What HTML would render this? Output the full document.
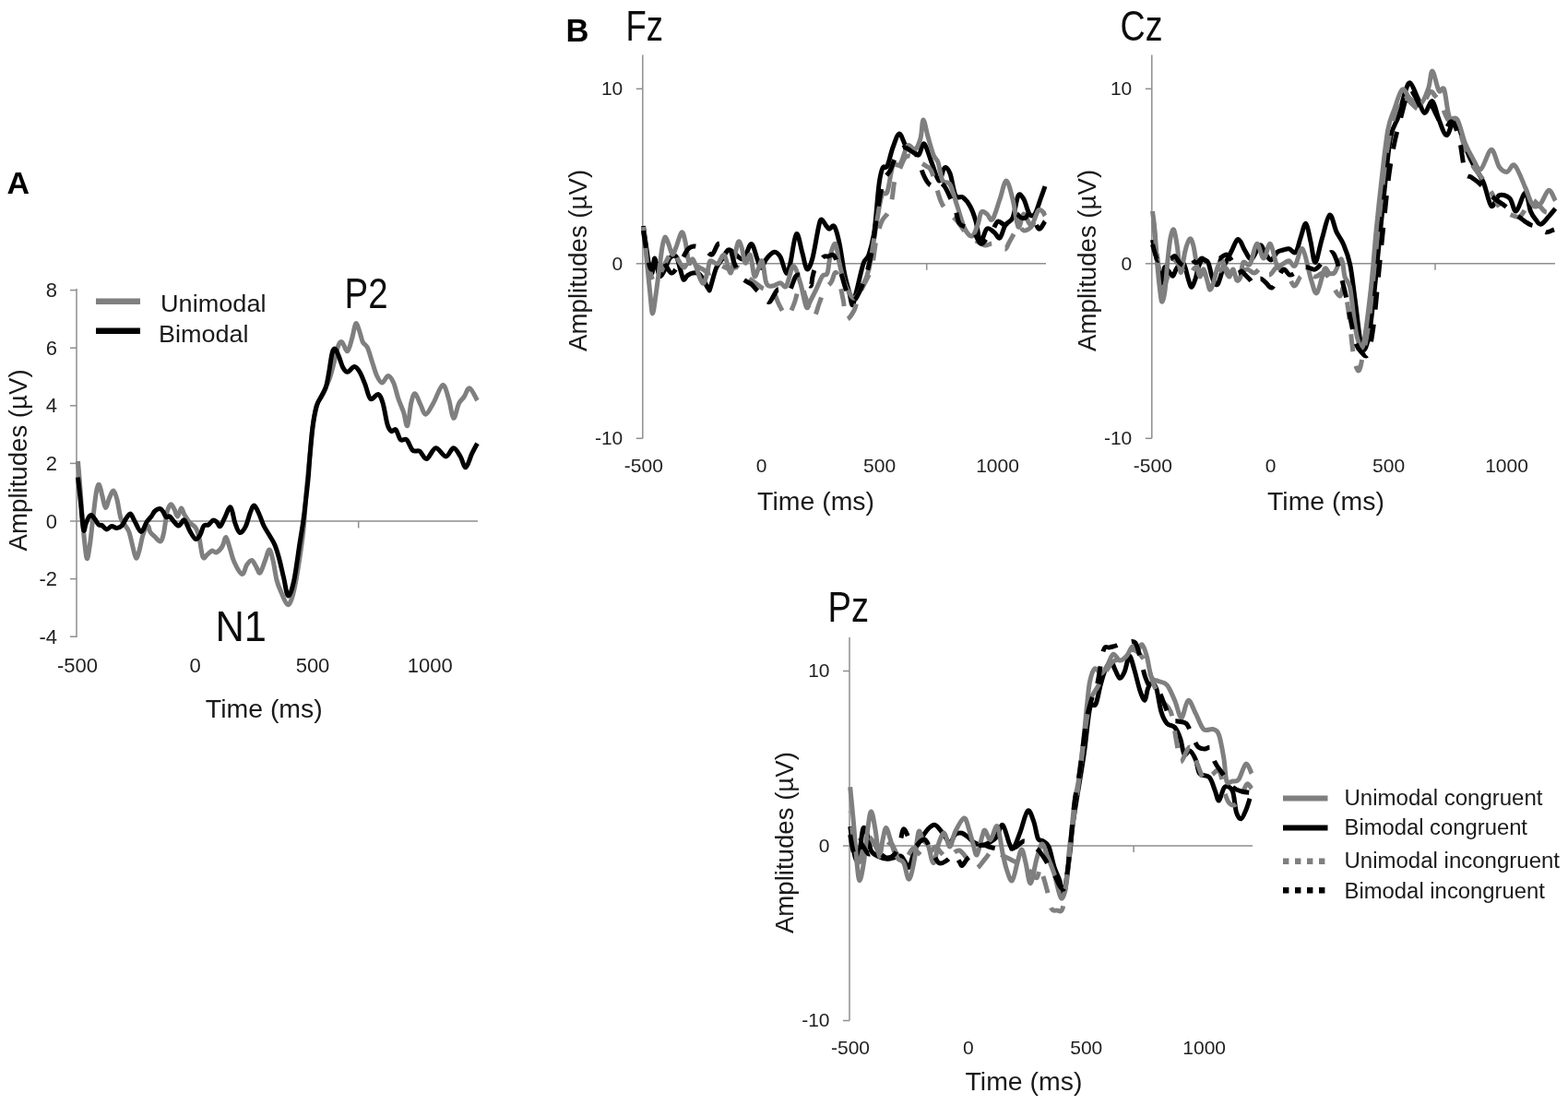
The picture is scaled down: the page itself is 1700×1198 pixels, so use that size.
<!DOCTYPE html>
<html><head><meta charset="utf-8"><title>ERP figure</title>
<style>html,body{margin:0;padding:0;background:#fff;}svg{display:block;}</style>
</head><body>
<svg width="1700" height="1198" viewBox="0 0 1700 1198">
<rect width="1700" height="1198" fill="#fff"/>
<g font-family="'Liberation Sans', Arial, sans-serif">
<text x="7.6" y="209.9" font-size="34.0" text-anchor="start" fill="#000" font-weight="bold">A</text>
<text x="613.5" y="44.6" font-size="34.5" text-anchor="start" fill="#000" font-weight="bold">B</text>
<line x1="83" y1="313" x2="83" y2="691" stroke="#8e8e8e" stroke-width="1.5"/>
<line x1="76" y1="314.6" x2="83" y2="314.6" stroke="#8e8e8e" stroke-width="1.5"/>
<text x="62.0" y="322.2" font-size="22.0" text-anchor="end" fill="#1f1f1f" >8</text>
<line x1="76" y1="377.2" x2="83" y2="377.2" stroke="#8e8e8e" stroke-width="1.5"/>
<text x="62.0" y="384.8" font-size="22.0" text-anchor="end" fill="#1f1f1f" >6</text>
<line x1="76" y1="439.8" x2="83" y2="439.8" stroke="#8e8e8e" stroke-width="1.5"/>
<text x="62.0" y="447.4" font-size="22.0" text-anchor="end" fill="#1f1f1f" >4</text>
<line x1="76" y1="502.4" x2="83" y2="502.4" stroke="#8e8e8e" stroke-width="1.5"/>
<text x="62.0" y="510.0" font-size="22.0" text-anchor="end" fill="#1f1f1f" >2</text>
<line x1="76" y1="565.0" x2="83" y2="565.0" stroke="#8e8e8e" stroke-width="1.5"/>
<text x="62.0" y="572.6" font-size="22.0" text-anchor="end" fill="#1f1f1f" >0</text>
<line x1="76" y1="627.6" x2="83" y2="627.6" stroke="#8e8e8e" stroke-width="1.5"/>
<text x="62.0" y="635.2" font-size="22.0" text-anchor="end" fill="#1f1f1f" >-2</text>
<line x1="76" y1="690.2" x2="83" y2="690.2" stroke="#8e8e8e" stroke-width="1.5"/>
<text x="62.0" y="697.8" font-size="22.0" text-anchor="end" fill="#1f1f1f" >-4</text>
<line x1="83" y1="565" x2="518" y2="565" stroke="#8e8e8e" stroke-width="1.5"/>
<line x1="388.7" y1="565" x2="388.7" y2="572.5" stroke="#8e8e8e" stroke-width="1.5"/>
<text x="84.0" y="728.6" font-size="22.0" text-anchor="middle" fill="#1f1f1f" >-500</text>
<text x="211.5" y="728.6" font-size="22.0" text-anchor="middle" fill="#1f1f1f" >0</text>
<text x="339.0" y="728.6" font-size="22.0" text-anchor="middle" fill="#1f1f1f" >500</text>
<text x="466.3" y="728.6" font-size="22.0" text-anchor="middle" fill="#1f1f1f" >1000</text>
<text x="286.3" y="778.4" font-size="27.0" text-anchor="middle" fill="#1a1a1a" textLength="127.0" lengthAdjust="spacingAndGlyphs" >Time (ms)</text>
<text x="28.9" y="498.9" font-size="27.0" text-anchor="middle" fill="#1a1a1a" textLength="197.0" lengthAdjust="spacingAndGlyphs" transform="rotate(-90 28.9 498.9)">Amplitudes (&#181;V)</text>
<line x1="104" y1="326.7" x2="152" y2="326.7" stroke="#7f7f7f" stroke-width="6.5"/>
<line x1="104" y1="358.7" x2="152" y2="358.7" stroke="#000000" stroke-width="6.5"/>
<text x="174.0" y="337.9" font-size="26.5" text-anchor="start" fill="#1a1a1a" textLength="114.5" lengthAdjust="spacingAndGlyphs" >Unimodal</text>
<text x="172.0" y="370.9" font-size="26.5" text-anchor="start" fill="#1a1a1a" textLength="97.5" lengthAdjust="spacingAndGlyphs" >Bimodal</text>
<text x="373.5" y="333.8" font-size="46.0" text-anchor="start" fill="#0d0d0d" textLength="47.0" lengthAdjust="spacingAndGlyphs" >P2</text>
<text x="233.5" y="695.0" font-size="46.0" text-anchor="start" fill="#0d0d0d" textLength="55.5" lengthAdjust="spacingAndGlyphs" >N1</text>
<path d="M84.5,500.0 C84.9,505.0 86.1,518.3 87.0,530.0 C87.9,541.7 88.8,557.5 90.0,570.0 C91.2,582.5 92.8,601.7 94.0,605.0 C95.2,608.3 96.3,597.5 97.5,590.0 C98.7,582.5 99.8,569.5 101.0,560.0 C102.2,550.5 103.4,538.8 104.5,533.0 C105.6,527.2 106.4,524.7 107.5,525.5 C108.6,526.3 109.8,533.8 111.0,538.0 C112.2,542.2 113.2,550.2 114.5,550.5 C115.8,550.8 117.1,543.1 118.5,540.0 C119.9,536.9 121.6,531.7 123.0,532.0 C124.4,532.3 125.7,537.0 127.0,542.0 C128.3,547.0 129.5,557.3 131.0,562.0 C132.5,566.7 134.5,567.5 136.0,570.0 C137.5,572.5 138.7,573.2 140.0,577.0 C141.3,580.8 142.8,588.3 144.0,593.0 C145.2,597.7 146.3,604.3 147.5,605.0 C148.7,605.7 149.8,601.2 151.0,597.0 C152.2,592.8 153.5,584.5 155.0,580.0 C156.5,575.5 158.7,570.5 160.0,570.0 C161.3,569.5 161.7,575.0 163.0,577.0 C164.3,579.0 166.2,580.3 168.0,582.0 C169.8,583.7 172.4,587.7 174.0,587.0 C175.6,586.3 176.3,583.2 177.5,578.0 C178.7,572.8 179.8,561.2 181.0,556.0 C182.2,550.8 183.7,547.7 185.0,547.0 C186.3,546.3 187.8,549.8 189.0,552.0 C190.2,554.2 191.2,560.2 192.5,560.0 C193.8,559.8 195.2,551.3 196.5,551.0 C197.8,550.7 198.4,555.3 200.0,558.0 C201.6,560.7 204.0,564.7 206.0,567.0 C208.0,569.3 210.3,569.3 212.0,572.0 C213.7,574.7 214.7,577.7 216.0,583.0 C217.3,588.3 218.5,601.0 220.0,604.0 C221.5,607.0 223.3,602.2 225.0,601.0 C226.7,599.8 228.4,597.3 230.0,597.0 C231.6,596.7 232.7,599.8 234.5,599.0 C236.3,598.2 239.2,595.2 241.0,592.5 C242.8,589.8 243.6,582.1 245.0,582.5 C246.4,582.9 247.9,590.6 249.4,595.0 C250.9,599.4 251.6,604.4 253.8,609.0 C255.9,613.6 260.2,621.9 262.5,622.5 C264.8,623.1 265.8,615.0 267.5,612.5 C269.2,610.0 271.2,607.1 273.0,607.5 C274.8,607.9 276.5,612.8 278.0,615.0 C279.5,617.2 280.4,622.2 282.0,621.0 C283.6,619.8 285.8,611.7 287.5,607.5 C289.2,603.3 290.6,596.0 292.0,596.0 C293.4,596.0 294.7,602.0 296.0,607.5 C297.3,613.0 298.5,623.2 300.0,629.0 C301.5,634.8 303.0,638.1 305.0,642.5 C307.0,646.9 309.9,655.2 312.0,655.6 C314.1,656.0 315.8,650.9 317.5,645.0 C319.2,639.1 320.6,631.5 322.5,620.0 C324.4,608.5 327.2,590.2 328.8,576.0 C330.3,561.8 330.9,548.0 332.0,535.0 C333.1,522.0 334.3,510.0 335.5,498.0 C336.7,486.0 337.7,472.7 339.0,463.0 C340.3,453.3 341.8,445.5 343.3,440.0 C344.9,434.5 346.7,433.3 348.3,430.0 C349.9,426.7 351.5,423.3 353.0,420.0 C354.5,416.7 355.9,414.7 357.5,410.0 C359.1,405.3 361.0,397.5 362.5,391.7 C364.0,385.9 365.3,378.5 366.7,375.0 C368.1,371.5 369.1,369.8 370.8,370.8 C372.5,371.8 374.9,381.5 376.7,380.8 C378.5,380.1 380.2,371.7 381.7,366.7 C383.2,361.7 384.4,351.9 385.8,350.8 C387.2,349.7 388.8,356.7 390.0,360.0 C391.2,363.3 391.9,368.0 393.3,370.8 C394.7,373.6 396.6,373.2 398.3,376.7 C400.0,380.2 401.6,386.7 403.3,391.7 C405.0,396.7 406.5,402.8 408.3,406.7 C410.1,410.6 412.1,414.9 414.2,415.0 C416.3,415.1 418.7,407.5 420.8,407.5 C422.9,407.5 424.9,411.0 426.7,415.0 C428.5,419.0 429.9,426.4 431.7,431.7 C433.5,437.0 435.8,441.7 437.5,446.7 C439.2,451.7 440.3,463.4 441.7,461.7 C443.1,460.0 444.4,442.5 445.8,436.7 C447.2,430.9 448.3,426.4 450.0,426.7 C451.7,427.0 453.9,434.6 455.8,438.3 C457.8,442.1 459.3,449.5 461.7,449.2 C464.1,448.9 466.9,442.0 470.0,436.7 C473.1,431.4 477.2,418.1 480.0,417.5 C482.8,416.9 484.8,427.3 486.7,433.3 C488.6,439.3 489.9,452.6 491.7,453.3 C493.5,454.0 495.6,441.4 497.5,437.5 C499.4,433.6 501.4,432.8 503.3,430.0 C505.2,427.2 506.8,420.1 509.2,420.8 C511.6,421.5 516.1,432.0 517.5,434.2" fill="none" stroke="#7f7f7f" stroke-width="5.0" stroke-linejoin="round" stroke-linecap="butt"/>
<path d="M84.5,517.5 C84.9,521.2 86.0,530.6 87.0,540.0 C88.0,549.4 89.5,569.3 90.5,574.0 C91.5,578.7 92.1,570.2 93.0,568.0 C93.9,565.8 95.0,562.6 96.0,561.0 C97.0,559.4 97.8,558.2 99.0,558.5 C100.2,558.8 101.7,561.2 103.0,563.0 C104.3,564.8 105.8,567.9 107.0,569.0 C108.2,570.1 109.1,568.7 110.5,569.5 C111.9,570.3 113.8,573.8 115.5,574.0 C117.2,574.2 119.2,570.8 121.0,570.5 C122.8,570.2 124.7,572.6 126.5,572.5 C128.3,572.4 130.2,571.9 132.0,570.0 C133.8,568.1 135.9,563.2 137.5,561.0 C139.1,558.8 140.1,556.3 141.5,557.0 C142.9,557.7 144.1,561.8 146.0,565.0 C147.9,568.2 150.8,576.3 153.0,576.5 C155.2,576.7 157.2,568.8 159.0,566.0 C160.8,563.2 162.5,562.0 164.0,560.0 C165.5,558.0 166.4,555.4 168.0,554.0 C169.6,552.6 172.0,551.3 173.5,551.5 C175.0,551.7 175.9,553.5 177.0,555.0 C178.1,556.5 178.8,559.7 180.0,560.5 C181.2,561.3 182.5,559.1 184.0,560.0 C185.5,560.9 187.5,564.3 189.0,566.0 C190.5,567.7 191.8,569.7 193.0,570.0 C194.2,570.3 194.8,569.0 196.0,568.0 C197.2,567.0 198.3,562.7 200.0,564.0 C201.7,565.3 204.0,572.6 206.0,576.0 C208.0,579.4 210.2,583.8 212.0,584.5 C213.8,585.2 215.5,582.4 217.0,580.0 C218.5,577.6 219.5,571.8 221.0,570.0 C222.5,568.2 224.3,570.0 226.0,569.0 C227.7,568.0 229.5,564.5 231.0,564.0 C232.5,563.5 233.7,564.9 235.0,566.0 C236.3,567.1 237.3,571.4 238.8,570.6 C240.2,569.8 241.9,564.4 243.8,561.0 C245.6,557.6 248.1,548.9 250.0,550.0 C251.9,551.1 253.3,562.9 255.0,567.5 C256.7,572.1 258.1,576.9 260.0,577.5 C261.9,578.1 264.4,574.6 266.2,571.0 C268.1,567.4 269.7,559.8 271.2,556.0 C272.8,552.2 274.0,547.8 275.6,548.0 C277.2,548.2 279.3,553.8 281.0,557.5 C282.7,561.2 284.1,566.1 286.0,570.0 C287.9,573.9 290.5,577.5 292.5,581.0 C294.5,584.5 296.3,587.0 298.0,591.0 C299.7,595.0 300.9,599.2 302.5,605.0 C304.1,610.8 305.8,619.2 307.5,626.0 C309.2,632.8 310.6,645.5 312.5,646.0 C314.4,646.5 316.7,638.5 318.8,629.0 C320.8,619.5 323.3,599.7 325.0,589.0 C326.7,578.3 327.7,572.3 328.8,565.0 C329.8,557.7 330.4,552.5 331.2,545.0 C332.1,537.5 333.2,528.0 334.0,520.0 C334.8,511.9 335.0,506.2 335.8,496.7 C336.6,487.2 337.8,472.4 339.0,463.0 C340.2,453.6 341.8,445.5 343.3,440.0 C344.9,434.5 346.6,433.3 348.3,430.0 C350.0,426.7 351.9,424.4 353.3,420.0 C354.7,415.6 355.6,409.4 356.7,403.3 C357.8,397.2 358.9,387.5 360.0,383.3 C361.1,379.1 362.1,377.7 363.3,378.3 C364.6,378.9 366.1,383.4 367.5,386.7 C368.9,390.0 370.2,395.5 371.7,398.3 C373.2,401.1 374.6,403.4 376.7,403.3 C378.8,403.2 382.0,397.5 384.2,397.5 C386.4,397.5 388.1,400.1 390.0,403.3 C391.9,406.5 393.9,411.8 395.8,416.7 C397.8,421.6 399.3,430.7 401.7,432.5 C404.1,434.3 407.8,426.8 410.0,427.5 C412.2,428.2 413.3,431.3 415.0,436.7 C416.7,442.1 418.5,454.9 420.0,460.0 C421.5,465.1 422.7,466.5 424.2,467.5 C425.7,468.5 427.5,464.3 429.2,465.8 C430.9,467.3 432.3,474.9 434.2,476.7 C436.1,478.5 438.6,474.8 440.8,476.7 C443.0,478.6 445.1,486.2 447.5,488.3 C449.9,490.4 452.5,487.7 455.0,489.2 C457.5,490.7 459.6,498.1 462.5,497.5 C465.4,496.9 469.0,486.2 472.5,485.8 C476.0,485.4 480.1,495.0 483.3,495.0 C486.5,495.0 489.1,485.8 491.7,485.8 C494.3,485.8 497.0,491.5 499.2,495.0 C501.4,498.5 502.9,507.2 505.0,506.7 C507.1,506.1 509.6,496.0 511.7,491.7 C513.8,487.4 516.5,482.6 517.5,480.8" fill="none" stroke="#000000" stroke-width="5.0" stroke-linejoin="round" stroke-linecap="butt"/>
<line x1="696.8" y1="59.6" x2="696.8" y2="475.3" stroke="#8e8e8e" stroke-width="1.5"/>
<line x1="689.8" y1="96.3" x2="696.8" y2="96.3" stroke="#8e8e8e" stroke-width="1.5"/>
<text x="675.3" y="103.1" font-size="21.0" text-anchor="end" fill="#1f1f1f" >10</text>
<line x1="689.8" y1="285.8" x2="696.8" y2="285.8" stroke="#8e8e8e" stroke-width="1.5"/>
<text x="675.3" y="292.6" font-size="21.0" text-anchor="end" fill="#1f1f1f" >0</text>
<line x1="689.8" y1="475.3" x2="696.8" y2="475.3" stroke="#8e8e8e" stroke-width="1.5"/>
<text x="675.3" y="482.1" font-size="21.0" text-anchor="end" fill="#1f1f1f" >-10</text>
<line x1="696.8" y1="285.8" x2="1134.0" y2="285.8" stroke="#8e8e8e" stroke-width="1.5"/>
<line x1="1004.7" y1="285.8" x2="1004.7" y2="292.8" stroke="#8e8e8e" stroke-width="1.5"/>
<text x="697.8" y="511.5" font-size="21.0" text-anchor="middle" fill="#1f1f1f" >-500</text>
<text x="825.7" y="511.5" font-size="21.0" text-anchor="middle" fill="#1f1f1f" >0</text>
<text x="953.6" y="511.5" font-size="21.0" text-anchor="middle" fill="#1f1f1f" >500</text>
<text x="1081.5" y="511.5" font-size="21.0" text-anchor="middle" fill="#1f1f1f" >1000</text>
<text x="884.6" y="553.0" font-size="27.0" text-anchor="middle" fill="#1a1a1a" textLength="127.0" lengthAdjust="spacingAndGlyphs" >Time (ms)</text>
<text x="636.0" y="282.4" font-size="27.0" text-anchor="middle" fill="#1a1a1a" textLength="197.0" lengthAdjust="spacingAndGlyphs" transform="rotate(-90 636.0 282.4)">Amplitudes (&#181;V)</text>
<text x="678.5" y="43.7" font-size="45.5" text-anchor="start" fill="#0d0d0d" textLength="40.5" lengthAdjust="spacingAndGlyphs" >Fz</text>
<path d="M697.5,245.0 C698.1,249.2 699.9,262.5 701.0,270.0 C702.1,277.5 703.0,285.7 704.0,290.0 C705.0,294.3 706.0,297.7 707.0,296.0 C708.0,294.3 708.7,279.5 710.0,280.0 C711.3,280.5 713.2,297.0 715.0,299.0 C716.8,301.0 719.2,295.2 721.0,292.0 C722.8,288.8 724.0,282.3 726.0,280.0 C728.0,277.7 731.2,276.3 733.0,278.0 C734.8,279.7 735.7,285.8 737.0,290.0 C738.3,294.2 739.7,301.5 741.0,303.0 C742.3,304.5 743.3,300.2 745.0,299.0 C746.7,297.8 748.7,296.2 751.0,296.0 C753.3,295.8 756.2,295.2 759.0,298.0 C761.8,300.8 766.2,310.6 768.0,313.0 C769.8,315.4 768.6,316.0 770.0,312.3 C771.4,308.6 774.3,295.9 776.5,290.6 C778.7,285.4 780.8,284.1 783.0,280.8 C785.2,277.5 787.3,272.1 789.5,271.0 C791.7,269.9 793.3,272.7 796.0,274.3 C798.7,275.9 802.7,282.4 805.8,280.8 C808.9,279.2 812.0,264.5 814.5,264.5 C817.0,264.5 819.2,276.4 821.0,280.8 C822.8,285.2 823.8,290.6 825.4,290.6 C827.0,290.6 828.4,283.7 830.8,280.8 C833.1,277.9 837.0,273.6 839.5,273.2 C842.0,272.8 843.8,274.8 846.0,278.6 C848.2,282.4 850.7,294.9 852.5,296.0 C854.3,297.1 855.1,292.2 856.9,285.1 C858.7,278.0 861.2,255.4 863.4,253.6 C865.6,251.8 868.0,267.9 869.9,274.3 C871.8,280.7 873.0,290.6 874.8,291.7 C876.6,292.8 878.6,288.2 880.7,280.8 C882.8,273.4 885.7,254.2 887.3,247.1 C888.9,239.9 889.1,238.2 890.5,237.9 C891.9,237.6 894.4,243.3 895.9,245.0 C897.4,246.7 897.8,248.1 899.2,248.2 C900.7,248.3 902.8,243.0 904.6,245.5 C906.4,248.0 908.2,255.0 910.0,263.4 C911.8,271.8 913.7,286.9 915.5,296.0 C917.3,305.1 919.4,311.9 920.9,317.7 C922.4,323.5 923.0,330.6 924.2,330.7 C925.4,330.8 926.0,325.4 928.0,318.0 C930.0,310.6 933.7,293.0 936.0,286.0 C938.3,279.0 940.0,282.0 942.0,276.0 C944.0,270.0 946.2,262.7 948.0,250.0 C949.8,237.3 951.5,211.3 953.0,200.0 C954.5,188.7 955.5,185.3 957.0,182.0 C958.5,178.7 960.2,183.7 962.0,180.0 C963.8,176.3 965.8,165.8 968.0,160.0 C970.2,154.2 972.7,145.3 975.0,145.0 C977.3,144.7 979.5,154.8 982.0,158.0 C984.5,161.2 987.7,162.3 990.0,164.0 C992.3,165.7 994.0,169.3 996.0,168.0 C998.0,166.7 999.7,154.7 1002.0,156.0 C1004.3,157.3 1007.3,169.3 1010.0,176.0 C1012.7,182.7 1015.7,195.0 1018.0,196.0 C1020.3,197.0 1022.0,183.3 1024.0,182.0 C1026.0,180.7 1028.0,183.0 1030.0,188.0 C1032.0,193.0 1033.7,207.7 1036.0,212.0 C1038.3,216.3 1041.3,212.0 1044.0,214.0 C1046.7,216.0 1049.7,219.7 1052.0,224.0 C1054.3,228.3 1056.2,233.7 1058.0,240.0 C1059.8,246.3 1061.0,260.7 1063.0,262.0 C1065.0,263.3 1067.5,249.7 1070.0,248.0 C1072.5,246.3 1075.7,250.3 1078.0,252.0 C1080.3,253.7 1082.0,259.3 1084.0,258.0 C1086.0,256.7 1087.7,247.7 1090.0,244.0 C1092.3,240.3 1095.7,241.3 1098.0,236.0 C1100.3,230.7 1102.0,215.3 1104.0,212.0 C1106.0,208.7 1108.0,212.7 1110.0,216.0 C1112.0,219.3 1114.0,229.3 1116.0,232.0 C1118.0,234.7 1120.0,234.7 1122.0,232.0 C1124.0,229.3 1126.2,221.0 1128.0,216.0 C1129.8,211.0 1132.2,204.3 1133.0,202.0" fill="none" stroke="#000000" stroke-width="5.0" stroke-linejoin="round" stroke-linecap="butt"/>
<path d="M697.5,246.0 C698.1,251.7 699.8,267.7 701.0,280.0 C702.2,292.3 703.9,310.0 705.0,320.0 C706.1,330.0 706.5,340.0 707.5,340.0 C708.5,340.0 709.8,328.3 711.0,320.0 C712.2,311.7 713.8,298.7 715.0,290.0 C716.2,281.3 717.0,273.5 718.0,268.0 C719.0,262.5 719.8,257.5 721.0,257.0 C722.2,256.5 723.7,261.8 725.0,265.0 C726.3,268.2 727.7,275.5 729.0,276.0 C730.3,276.5 731.3,272.0 733.0,268.0 C734.7,264.0 737.3,253.0 739.0,252.0 C740.7,251.0 741.7,256.5 743.0,262.0 C744.3,267.5 745.7,281.8 747.0,285.0 C748.3,288.2 749.7,280.2 751.0,281.0 C752.3,281.8 753.7,286.5 755.0,290.0 C756.3,293.5 757.7,299.2 759.0,302.0 C760.3,304.8 761.7,308.2 763.0,307.0 C764.3,305.8 765.8,299.0 767.0,295.0 C768.2,291.0 768.2,284.5 770.0,283.0 C771.8,281.5 775.5,287.1 778.0,286.0 C780.5,284.9 782.9,274.8 785.2,276.5 C787.5,278.2 789.9,295.4 791.7,296.0 C793.5,296.6 794.5,285.6 796.0,280.0 C797.5,274.4 799.1,264.3 800.4,262.3 C801.7,260.3 802.7,264.2 804.0,268.0 C805.3,271.8 806.4,283.7 808.0,285.1 C809.6,286.5 811.8,274.1 813.4,276.5 C815.0,278.9 816.4,296.7 817.8,299.3 C819.2,301.9 820.6,294.7 822.0,292.0 C823.4,289.3 824.9,280.5 826.4,283.0 C827.9,285.5 829.0,302.3 830.8,306.8 C832.6,311.3 834.8,310.1 837.3,310.1 C839.8,310.1 843.5,306.8 846.0,306.8 C848.5,306.8 850.1,313.2 852.5,310.1 C854.9,307.0 857.6,288.9 860.1,288.4 C862.6,287.8 865.4,299.4 867.7,306.8 C870.1,314.2 872.4,329.6 874.2,332.9 C876.0,336.2 876.7,329.6 878.5,326.4 C880.3,323.1 882.9,317.9 885.1,313.4 C887.3,308.9 889.6,302.2 891.6,299.3 C893.6,296.4 895.5,299.8 897.0,296.0 C898.5,292.2 898.8,281.8 900.3,276.5 C901.8,271.2 904.1,263.1 905.7,264.5 C907.3,265.9 908.5,278.4 910.0,285.1 C911.5,291.9 913.2,299.6 915.0,305.0 C916.8,310.4 919.0,314.7 920.9,317.7 C922.8,320.7 924.1,324.1 926.3,323.1 C928.5,322.2 931.4,317.2 934.0,312.0 C936.6,306.8 939.3,303.3 942.0,292.0 C944.7,280.7 947.7,257.3 950.0,244.0 C952.3,230.7 954.0,218.0 956.0,212.0 C958.0,206.0 960.0,213.3 962.0,208.0 C964.0,202.7 965.7,185.0 968.0,180.0 C970.3,175.0 973.3,181.7 976.0,178.0 C978.7,174.3 981.3,160.7 984.0,158.0 C986.7,155.3 989.7,163.3 992.0,162.0 C994.3,160.7 996.5,155.3 998.0,150.0 C999.5,144.7 999.7,130.3 1001.0,130.0 C1002.3,129.7 1004.2,141.7 1006.0,148.0 C1007.8,154.3 1010.2,163.3 1012.0,168.0 C1013.8,172.7 1015.3,171.3 1017.0,176.0 C1018.7,180.7 1019.8,192.0 1022.0,196.0 C1024.2,200.0 1027.3,195.3 1030.0,200.0 C1032.7,204.7 1035.3,216.0 1038.0,224.0 C1040.7,232.0 1043.3,242.7 1046.0,248.0 C1048.7,253.3 1051.7,256.7 1054.0,256.0 C1056.3,255.3 1058.3,248.3 1060.0,244.0 C1061.7,239.7 1062.3,232.0 1064.0,230.0 C1065.7,228.0 1068.0,230.7 1070.0,232.0 C1072.0,233.3 1073.7,240.7 1076.0,238.0 C1078.3,235.3 1081.5,223.0 1084.0,216.0 C1086.5,209.0 1088.7,196.0 1091.0,196.0 C1093.3,196.0 1095.8,207.7 1098.0,216.0 C1100.2,224.3 1102.0,243.3 1104.0,246.0 C1106.0,248.7 1107.7,232.3 1110.0,232.0 C1112.3,231.7 1115.3,244.7 1118.0,244.0 C1120.7,243.3 1123.5,230.0 1126.0,228.0 C1128.5,226.0 1131.8,231.3 1133.0,232.0" fill="none" stroke="#7f7f7f" stroke-width="5.0" stroke-linejoin="round" stroke-linecap="butt"/>
<path d="M697.5,250.0 C698.1,254.2 699.8,267.5 701.0,275.0 C702.2,282.5 703.7,290.0 705.0,295.0 C706.3,300.0 707.5,304.2 709.0,305.0 C710.5,305.8 712.3,302.5 714.0,300.0 C715.7,297.5 717.3,293.3 719.0,290.0 C720.7,286.7 722.2,283.0 724.0,280.0 C725.8,277.0 728.0,271.5 730.0,272.0 C732.0,272.5 734.0,280.0 736.0,283.0 C738.0,286.0 740.0,290.5 742.0,290.0 C744.0,289.5 745.8,280.3 748.0,280.0 C750.2,279.7 752.7,286.0 755.0,288.0 C757.3,290.0 759.5,290.7 762.0,292.0 C764.5,293.3 767.0,296.7 770.0,296.0 C773.0,295.3 777.3,289.0 780.0,288.0 C782.7,287.0 784.0,289.3 786.0,290.0 C788.0,290.7 789.7,292.0 792.0,292.0 C794.3,292.0 797.0,288.7 800.0,290.0 C803.0,291.3 807.0,297.3 810.0,300.0 C813.0,302.7 815.3,304.0 818.0,306.0 C820.7,308.0 823.7,310.7 826.0,312.0 C828.3,313.3 830.0,313.5 832.0,314.0 C834.0,314.5 835.8,312.2 838.0,315.0 C840.2,317.8 842.4,326.4 845.0,331.0 C847.6,335.6 850.9,343.1 853.6,342.7 C856.3,342.3 859.1,333.7 861.2,328.6 C863.3,323.5 864.5,314.8 866.0,312.0 C867.5,309.2 868.7,310.0 870.0,312.0 C871.3,314.0 872.0,318.7 874.0,324.0 C876.0,329.3 879.4,343.0 881.8,343.8 C884.2,344.6 886.3,333.5 888.3,328.6 C890.3,323.7 891.6,318.2 893.8,314.4 C896.0,310.6 899.4,308.9 901.3,305.8 C903.2,302.7 903.9,297.3 905.0,296.0 C906.1,294.7 907.0,295.7 908.0,298.0 C909.0,300.3 909.9,305.3 911.0,310.0 C912.1,314.7 913.3,320.4 914.4,326.4 C915.5,332.4 915.6,344.4 917.6,346.0 C919.6,347.6 924.2,340.0 926.3,336.0 C928.4,332.0 928.4,326.3 930.0,322.0 C931.6,317.7 933.5,315.3 936.0,310.0 C938.5,304.7 942.7,298.3 945.0,290.0 C947.3,281.7 948.2,268.3 950.0,260.0 C951.8,251.7 953.8,245.0 956.0,240.0 C958.2,235.0 961.2,234.0 963.0,230.0 C964.8,226.0 965.8,221.7 967.0,216.0 C968.2,210.3 968.5,201.7 970.0,196.0 C971.5,190.3 974.0,186.3 976.0,182.0 C978.0,177.7 979.7,172.0 982.0,170.0 C984.3,168.0 988.0,169.3 990.0,170.0 C992.0,170.7 991.7,172.3 994.0,174.0 C996.3,175.7 1001.3,178.0 1004.0,180.0 C1006.7,182.0 1007.3,179.7 1010.0,186.0 C1012.7,192.3 1017.0,210.7 1020.0,218.0 C1023.0,225.3 1025.0,226.3 1028.0,230.0 C1031.0,233.7 1034.3,235.7 1038.0,240.0 C1041.7,244.3 1046.3,252.3 1050.0,256.0 C1053.7,259.7 1057.0,260.3 1060.0,262.0 C1063.0,263.7 1065.3,265.7 1068.0,266.0 C1070.7,266.3 1073.3,264.0 1076.0,264.0 C1078.7,264.0 1081.7,265.0 1084.0,266.0 C1086.3,267.0 1088.3,270.5 1090.0,270.0 C1091.7,269.5 1092.3,266.0 1094.0,263.0 C1095.7,260.0 1098.3,255.2 1100.0,252.0 C1101.7,248.8 1102.3,244.3 1104.0,244.0 C1105.7,243.7 1107.7,249.7 1110.0,250.0 C1112.3,250.3 1115.7,248.3 1118.0,246.0 C1120.3,243.7 1122.0,238.7 1124.0,236.0 C1126.0,233.3 1128.5,230.3 1130.0,230.0 C1131.5,229.7 1132.5,233.3 1133.0,234.0" fill="none" stroke="#7f7f7f" stroke-width="5.0" stroke-linejoin="round" stroke-linecap="butt" stroke-dasharray="19 16"/>
<path d="M697.5,250.0 C698.2,254.7 700.6,271.0 702.0,278.0 C703.4,285.0 704.5,291.0 706.0,292.0 C707.5,293.0 709.3,286.3 711.0,284.0 C712.7,281.7 714.2,277.3 716.0,278.0 C717.8,278.7 720.0,285.0 722.0,288.0 C724.0,291.0 726.0,295.7 728.0,296.0 C730.0,296.3 732.0,292.7 734.0,290.0 C736.0,287.3 738.0,283.3 740.0,280.0 C742.0,276.7 744.0,272.2 746.0,270.0 C748.0,267.8 750.0,267.3 752.0,267.0 C754.0,266.7 755.8,267.3 758.0,268.0 C760.2,268.7 762.7,269.7 765.0,271.0 C767.3,272.3 769.7,277.1 772.0,276.0 C774.3,274.9 776.5,266.2 778.7,264.5 C780.9,262.8 782.8,265.1 785.0,266.0 C787.2,266.9 789.9,266.8 791.7,270.0 C793.5,273.2 794.0,279.9 796.0,285.0 C798.0,290.1 801.4,297.0 803.6,300.3 C805.8,303.6 807.2,303.7 809.0,305.0 C810.8,306.3 812.7,306.5 814.5,308.0 C816.3,309.5 818.0,312.0 820.0,314.0 C822.0,316.0 824.1,317.8 826.4,320.0 C828.7,322.2 831.3,328.4 834.0,327.5 C836.7,326.6 840.2,316.3 842.7,314.4 C845.2,312.5 846.8,315.8 849.0,316.0 C851.2,316.2 853.6,318.1 855.8,315.5 C858.0,312.9 860.6,303.2 862.3,300.3 C864.0,297.4 864.7,298.0 866.0,298.0 C867.3,298.0 867.8,298.3 869.9,300.3 C872.0,302.3 876.6,310.2 878.5,310.1 C880.4,310.1 880.1,303.2 881.0,300.0 C881.9,296.8 882.0,294.2 884.0,290.6 C886.0,287.0 890.4,280.7 892.7,278.6 C895.0,276.5 896.2,278.4 898.0,278.0 C899.8,277.6 901.8,275.3 903.5,276.5 C905.2,277.7 906.4,281.1 908.0,285.0 C909.6,288.9 911.3,294.8 913.0,300.0 C914.7,305.2 916.0,311.7 918.0,316.0 C920.0,320.3 922.7,326.0 925.0,326.0 C927.3,326.0 929.5,321.2 932.0,316.0 C934.5,310.8 937.7,303.0 940.0,295.0 C942.3,287.0 944.0,279.7 946.0,268.0 C948.0,256.3 950.0,237.0 952.0,225.0 C954.0,213.0 955.8,202.7 958.0,196.0 C960.2,189.3 962.7,189.7 965.0,185.0 C967.3,180.3 969.5,172.2 972.0,168.0 C974.5,163.8 977.3,160.7 980.0,160.0 C982.7,159.3 985.5,162.3 988.0,164.0 C990.5,165.7 992.8,165.8 995.0,170.0 C997.2,174.2 998.7,183.8 1001.0,189.0 C1003.3,194.2 1006.5,199.8 1009.0,201.0 C1011.5,202.2 1013.5,195.8 1016.0,196.0 C1018.5,196.2 1021.7,199.0 1024.0,202.0 C1026.3,205.0 1028.0,209.7 1030.0,214.0 C1032.0,218.3 1034.3,223.3 1036.0,228.0 C1037.7,232.7 1038.2,239.0 1040.0,242.0 C1041.8,245.0 1044.7,245.0 1047.0,246.0 C1049.3,247.0 1051.3,245.0 1054.0,248.0 C1056.7,251.0 1060.3,262.3 1063.0,264.0 C1065.7,265.7 1067.8,260.3 1070.0,258.0 C1072.2,255.7 1074.0,253.0 1076.0,250.0 C1078.0,247.0 1079.7,241.0 1082.0,240.0 C1084.3,239.0 1087.7,244.7 1090.0,244.0 C1092.3,243.3 1094.0,238.0 1096.0,236.0 C1098.0,234.0 1100.2,232.0 1102.0,232.0 C1103.8,232.0 1105.3,235.3 1107.0,236.0 C1108.7,236.7 1110.2,237.0 1112.0,236.0 C1113.8,235.0 1115.7,228.0 1118.0,230.0 C1120.3,232.0 1123.5,246.3 1126.0,248.0 C1128.5,249.7 1131.8,241.3 1133.0,240.0" fill="none" stroke="#000000" stroke-width="5.0" stroke-linejoin="round" stroke-linecap="butt" stroke-dasharray="19 16"/>
<line x1="1248.8" y1="59.6" x2="1248.8" y2="475.3" stroke="#8e8e8e" stroke-width="1.5"/>
<line x1="1241.8" y1="96.3" x2="1248.8" y2="96.3" stroke="#8e8e8e" stroke-width="1.5"/>
<text x="1227.3" y="103.1" font-size="21.0" text-anchor="end" fill="#1f1f1f" >10</text>
<line x1="1241.8" y1="285.8" x2="1248.8" y2="285.8" stroke="#8e8e8e" stroke-width="1.5"/>
<text x="1227.3" y="292.6" font-size="21.0" text-anchor="end" fill="#1f1f1f" >0</text>
<line x1="1241.8" y1="475.3" x2="1248.8" y2="475.3" stroke="#8e8e8e" stroke-width="1.5"/>
<text x="1227.3" y="482.1" font-size="21.0" text-anchor="end" fill="#1f1f1f" >-10</text>
<line x1="1248.8" y1="285.8" x2="1686.0" y2="285.8" stroke="#8e8e8e" stroke-width="1.5"/>
<line x1="1556.0" y1="285.8" x2="1556.0" y2="292.8" stroke="#8e8e8e" stroke-width="1.5"/>
<text x="1249.8" y="511.5" font-size="21.0" text-anchor="middle" fill="#1f1f1f" >-500</text>
<text x="1377.7" y="511.5" font-size="21.0" text-anchor="middle" fill="#1f1f1f" >0</text>
<text x="1505.6" y="511.5" font-size="21.0" text-anchor="middle" fill="#1f1f1f" >500</text>
<text x="1633.5" y="511.5" font-size="21.0" text-anchor="middle" fill="#1f1f1f" >1000</text>
<text x="1437.5" y="552.5" font-size="27.0" text-anchor="middle" fill="#1a1a1a" textLength="127.0" lengthAdjust="spacingAndGlyphs" >Time (ms)</text>
<text x="1188.0" y="282.4" font-size="27.0" text-anchor="middle" fill="#1a1a1a" textLength="197.0" lengthAdjust="spacingAndGlyphs" transform="rotate(-90 1188.0 282.4)">Amplitudes (&#181;V)</text>
<text x="1214.5" y="44.4" font-size="45.5" text-anchor="start" fill="#0d0d0d" textLength="46.0" lengthAdjust="spacingAndGlyphs" >Cz</text>
<path d="M1249.5,260.0 C1250.4,264.2 1253.4,277.2 1255.0,285.1 C1256.6,293.0 1257.8,306.4 1259.0,307.2 C1260.2,308.0 1261.2,292.3 1262.5,290.1 C1263.8,287.9 1265.5,292.6 1267.0,294.1 C1268.5,295.6 1270.3,299.5 1271.6,299.2 C1272.9,298.9 1273.8,294.3 1275.0,292.1 C1276.2,289.9 1277.8,287.4 1279.0,286.1 C1280.2,284.8 1281.0,283.4 1282.0,284.1 C1283.0,284.8 1283.8,286.6 1285.0,290.1 C1286.2,293.6 1287.9,301.7 1289.1,305.2 C1290.3,308.7 1290.9,311.7 1292.1,311.2 C1293.3,310.7 1294.9,305.7 1296.1,302.2 C1297.3,298.7 1297.9,293.5 1299.1,290.1 C1300.3,286.8 1301.8,283.4 1303.1,282.1 C1304.4,280.8 1305.9,281.6 1307.1,282.1 C1308.3,282.6 1308.9,282.1 1310.1,285.1 C1311.3,288.1 1312.9,296.5 1314.1,300.2 C1315.3,303.9 1316.1,305.9 1317.1,307.2 C1318.1,308.5 1319.2,309.4 1320.2,308.2 C1321.2,307.0 1322.2,303.2 1323.2,300.2 C1324.2,297.2 1325.2,292.8 1326.2,290.1 C1327.2,287.4 1328.2,286.1 1329.2,284.1 C1330.2,282.1 1331.0,280.4 1332.2,278.1 C1333.4,275.8 1334.7,273.1 1336.2,270.1 C1337.7,267.1 1339.7,261.4 1341.2,260.1 C1342.7,258.8 1343.6,260.2 1345.0,262.1 C1346.4,264.0 1347.7,268.5 1349.7,271.6 C1351.7,274.7 1354.3,281.7 1357.0,280.8 C1359.7,279.9 1363.5,267.0 1366.0,266.0 C1368.5,265.0 1370.0,272.3 1372.0,275.0 C1374.0,277.7 1375.9,282.2 1378.0,282.0 C1380.1,281.8 1382.4,275.3 1384.6,273.5 C1386.8,271.7 1388.8,271.6 1391.0,271.0 C1393.2,270.4 1395.2,269.4 1397.5,269.8 C1399.8,270.2 1402.7,275.5 1404.8,273.5 C1406.9,271.5 1408.2,263.2 1410.0,258.0 C1411.8,252.8 1414.1,241.6 1415.9,242.3 C1417.7,243.0 1419.3,255.0 1421.0,262.0 C1422.7,269.0 1424.0,285.0 1426.0,284.5 C1428.0,284.0 1430.7,267.4 1433.3,258.8 C1435.9,250.2 1439.0,234.2 1441.6,233.0 C1444.2,231.8 1446.5,246.2 1449.0,251.4 C1451.5,256.6 1453.9,258.5 1456.3,264.3 C1458.7,270.1 1461.4,276.1 1463.6,286.3 C1465.8,296.5 1467.1,310.4 1469.2,325.5 C1471.3,340.6 1473.9,369.5 1476.3,376.6 C1478.7,383.7 1481.3,376.5 1483.4,368.0 C1485.5,359.5 1487.1,342.1 1489.0,325.5 C1490.9,308.9 1492.8,287.6 1494.7,268.7 C1496.6,249.8 1498.3,231.9 1500.4,212.0 C1502.5,192.1 1504.9,163.7 1507.5,149.5 C1510.1,135.3 1513.4,134.8 1516.0,126.8 C1518.6,118.8 1520.9,107.3 1523.0,101.2 C1525.1,95.1 1526.4,89.0 1528.8,89.9 C1531.2,90.9 1534.7,101.5 1537.3,106.9 C1539.9,112.3 1541.8,122.0 1544.4,122.5 C1547.0,123.0 1550.4,108.5 1553.0,109.7 C1555.6,110.9 1557.4,123.4 1560.0,129.6 C1562.6,135.8 1565.7,146.6 1568.5,146.6 C1571.3,146.6 1574.2,129.1 1577.0,129.6 C1579.8,130.1 1583.3,143.6 1585.6,149.5 C1587.9,155.4 1589.1,160.3 1591.0,165.0 C1592.9,169.7 1594.1,172.5 1597.0,177.9 C1599.9,183.3 1605.0,190.1 1608.3,197.7 C1611.6,205.3 1614.0,220.9 1616.8,223.3 C1619.6,225.7 1622.0,213.3 1625.3,211.9 C1628.6,210.5 1633.6,212.0 1636.7,214.8 C1639.8,217.7 1641.0,230.0 1643.8,229.0 C1646.6,228.0 1651.1,209.0 1653.7,209.0 C1656.3,209.0 1657.5,224.2 1659.4,229.0 C1661.3,233.8 1663.1,235.7 1665.0,238.0 C1666.9,240.3 1668.3,243.7 1670.7,243.1 C1673.1,242.5 1676.6,237.4 1679.2,234.6 C1681.8,231.8 1685.1,227.5 1686.3,226.1" fill="none" stroke="#000000" stroke-width="5.0" stroke-linejoin="round" stroke-linecap="butt"/>
<path d="M1249.5,229.0 C1249.9,232.5 1251.1,239.8 1252.0,250.0 C1252.9,260.2 1254.0,278.7 1255.0,290.0 C1256.0,301.3 1257.2,311.8 1258.0,318.0 C1258.8,324.2 1259.2,327.7 1260.0,327.2 C1260.8,326.7 1262.0,322.7 1263.0,315.2 C1264.0,307.7 1265.0,291.6 1266.0,282.1 C1267.0,272.6 1267.9,263.5 1269.0,258.0 C1270.1,252.5 1271.4,247.8 1272.6,249.0 C1273.8,250.2 1274.9,258.2 1276.0,265.0 C1277.1,271.8 1278.2,285.2 1279.0,290.0 C1279.8,294.8 1280.0,297.0 1281.0,294.0 C1282.0,291.0 1283.5,277.8 1285.0,272.0 C1286.5,266.2 1288.5,259.8 1290.0,259.0 C1291.5,258.2 1292.7,261.8 1294.0,267.0 C1295.3,272.2 1296.8,284.5 1298.0,290.0 C1299.2,295.5 1299.8,299.7 1301.0,300.0 C1302.2,300.3 1303.7,291.2 1305.0,292.0 C1306.3,292.8 1307.8,301.3 1309.0,305.0 C1310.2,308.7 1310.8,314.2 1312.0,314.2 C1313.2,314.2 1314.7,309.2 1316.0,305.2 C1317.3,301.2 1318.5,293.9 1320.0,290.0 C1321.5,286.1 1323.5,281.3 1325.0,282.0 C1326.5,282.7 1327.7,291.0 1329.0,294.0 C1330.3,297.0 1331.7,300.3 1333.0,300.0 C1334.3,299.7 1335.7,291.3 1337.0,292.0 C1338.3,292.7 1339.7,302.7 1341.0,304.0 C1342.3,305.3 1343.8,303.2 1345.0,300.0 C1346.2,296.8 1346.2,286.8 1347.9,284.5 C1349.6,282.2 1352.8,289.7 1355.2,286.3 C1357.7,282.9 1360.1,265.4 1362.6,264.3 C1365.1,263.2 1367.5,280.0 1370.0,280.0 C1372.5,280.0 1374.9,262.9 1377.3,264.3 C1379.7,265.7 1382.3,284.6 1384.6,288.2 C1386.9,291.8 1388.8,286.9 1391.0,286.0 C1393.2,285.1 1395.3,282.4 1397.5,282.7 C1399.7,283.0 1401.5,290.1 1404.0,288.0 C1406.5,285.9 1409.3,267.3 1412.2,269.8 C1415.1,272.3 1418.8,294.9 1421.4,302.9 C1424.0,310.9 1425.4,319.4 1427.8,317.6 C1430.2,315.8 1433.8,295.5 1436.0,291.9 C1438.2,288.3 1439.2,295.4 1441.0,296.0 C1442.8,296.6 1444.8,298.0 1447.0,295.5 C1449.2,293.0 1452.6,280.1 1454.4,280.8 C1456.2,281.6 1456.5,295.0 1458.0,300.0 C1459.5,305.0 1461.8,303.5 1463.5,311.0 C1465.2,318.5 1466.6,335.5 1468.0,345.0 C1469.4,354.5 1470.3,363.2 1472.0,368.0 C1473.7,372.8 1475.6,383.0 1478.0,374.0 C1480.4,365.0 1483.9,334.4 1486.2,314.0 C1488.5,293.6 1490.0,271.1 1491.9,251.7 C1493.8,232.3 1495.5,216.1 1497.6,197.7 C1499.7,179.2 1502.3,154.2 1504.7,141.0 C1507.1,127.8 1509.2,125.6 1511.8,118.3 C1514.4,111.0 1517.5,98.9 1520.3,97.0 C1523.1,95.1 1525.5,104.3 1528.8,106.9 C1532.1,109.5 1536.9,114.5 1540.2,112.6 C1543.5,110.7 1546.6,101.4 1548.7,95.5 C1550.8,89.6 1551.1,76.6 1553.0,77.1 C1554.9,77.6 1557.9,95.1 1560.0,98.4 C1562.1,101.7 1563.8,92.3 1565.7,97.0 C1567.6,101.7 1569.0,121.4 1571.4,126.8 C1573.8,132.2 1577.2,124.9 1580.0,129.6 C1582.8,134.3 1585.6,148.1 1588.4,155.2 C1591.2,162.3 1594.2,167.5 1597.0,172.2 C1599.8,176.9 1602.1,185.2 1605.4,183.5 C1608.7,181.8 1613.5,162.8 1616.8,162.3 C1620.1,161.8 1622.5,176.7 1625.3,180.7 C1628.1,184.7 1631.0,186.6 1633.8,186.4 C1636.6,186.2 1639.0,176.5 1642.3,179.3 C1645.6,182.1 1650.8,197.0 1653.7,203.4 C1656.6,209.8 1657.7,214.6 1659.4,218.0 C1661.1,221.4 1662.1,223.6 1664.0,224.0 C1665.9,224.4 1668.2,223.4 1670.7,220.4 C1673.2,217.4 1676.6,206.7 1679.2,206.2 C1681.8,205.7 1685.1,215.7 1686.3,217.6" fill="none" stroke="#7f7f7f" stroke-width="5.0" stroke-linejoin="round" stroke-linecap="butt"/>
<path d="M1250.5,240.0 C1251.2,246.7 1253.4,268.0 1255.0,280.0 C1256.6,292.0 1258.2,308.7 1260.0,312.0 C1261.8,315.3 1264.0,305.0 1266.0,300.0 C1268.0,295.0 1269.7,283.7 1272.0,282.0 C1274.3,280.3 1277.3,287.0 1280.0,290.0 C1282.7,293.0 1285.3,300.0 1288.0,300.0 C1290.7,300.0 1293.3,290.7 1296.0,290.0 C1298.7,289.3 1301.3,294.3 1304.0,296.0 C1306.7,297.7 1309.3,300.0 1312.0,300.0 C1314.7,300.0 1317.3,297.7 1320.0,296.0 C1322.7,294.3 1325.3,289.3 1328.0,290.0 C1330.7,290.7 1333.3,299.0 1336.0,300.0 C1338.7,301.0 1341.3,297.3 1344.0,296.0 C1346.7,294.7 1349.3,292.0 1352.0,292.0 C1354.7,292.0 1357.3,296.3 1360.0,296.0 C1362.7,295.7 1365.3,289.7 1368.0,290.0 C1370.7,290.3 1373.3,298.0 1376.0,298.0 C1378.7,298.0 1381.7,290.7 1384.0,290.0 C1386.3,289.3 1388.1,293.1 1390.0,294.0 C1391.9,294.9 1393.4,292.8 1395.6,295.5 C1397.8,298.2 1400.6,309.2 1403.0,310.0 C1405.4,310.8 1407.5,302.3 1410.0,300.0 C1412.5,297.7 1415.3,296.0 1418.0,296.0 C1420.7,296.0 1423.3,300.0 1426.0,300.0 C1428.7,300.0 1431.7,296.0 1434.0,296.0 C1436.3,296.0 1438.2,297.7 1440.0,300.0 C1441.8,302.3 1442.9,306.5 1445.0,310.0 C1447.1,313.5 1450.6,320.7 1452.6,321.0 C1454.6,321.3 1455.5,309.5 1457.0,312.0 C1458.5,314.5 1460.1,324.1 1461.8,336.0 C1463.5,347.9 1465.5,372.7 1467.3,383.7 C1469.1,394.7 1471.1,401.8 1472.8,402.0 C1474.5,402.2 1475.8,393.7 1477.7,385.0 C1479.6,376.3 1482.0,365.8 1484.0,350.0 C1486.0,334.2 1488.0,310.0 1490.0,290.0 C1492.0,270.0 1494.0,249.2 1496.0,230.0 C1498.0,210.8 1500.0,190.0 1502.0,175.0 C1504.0,160.0 1506.0,149.5 1508.0,140.0 C1510.0,130.5 1511.8,124.3 1514.0,118.0 C1516.2,111.7 1518.3,103.0 1521.0,102.0 C1523.7,101.0 1526.8,109.3 1530.0,112.0 C1533.2,114.7 1536.7,120.0 1540.0,118.0 C1543.3,116.0 1547.3,102.3 1550.0,100.0 C1552.7,97.7 1554.0,102.0 1556.0,104.0 C1558.0,106.0 1559.7,107.7 1562.0,112.0 C1564.3,116.3 1567.0,126.2 1570.0,130.0 C1573.0,133.8 1577.0,130.0 1580.0,135.0 C1583.0,140.0 1585.2,152.5 1588.0,160.0 C1590.8,167.5 1594.0,174.7 1597.0,180.0 C1600.0,185.3 1603.2,188.1 1606.0,192.0 C1608.8,195.9 1611.5,199.4 1614.0,203.4 C1616.5,207.4 1618.6,211.7 1621.0,216.0 C1623.4,220.3 1625.7,226.3 1628.2,229.0 C1630.7,231.7 1632.7,231.1 1636.0,232.0 C1639.3,232.9 1644.1,237.0 1648.0,234.6 C1651.9,232.2 1656.1,219.7 1659.4,217.6 C1662.7,215.5 1665.2,219.9 1668.0,222.0 C1670.8,224.1 1673.0,229.0 1676.0,230.0 C1679.0,231.0 1684.3,228.3 1686.0,228.0" fill="none" stroke="#7f7f7f" stroke-width="5.0" stroke-linejoin="round" stroke-linecap="butt" stroke-dasharray="19 16"/>
<path d="M1249.5,265.0 C1250.4,267.8 1253.2,279.8 1255.0,282.0 C1256.8,284.2 1258.3,278.2 1260.0,278.1 C1261.7,278.0 1263.3,280.8 1265.0,281.1 C1266.7,281.4 1268.5,280.7 1270.0,280.1 C1271.5,279.5 1272.5,276.8 1274.0,277.6 C1275.5,278.4 1277.2,283.3 1279.0,285.0 C1280.8,286.7 1283.0,288.8 1285.0,288.0 C1287.0,287.2 1289.4,280.8 1291.1,280.1 C1292.8,279.4 1293.7,283.3 1295.0,284.0 C1296.3,284.7 1297.8,284.8 1299.1,284.1 C1300.4,283.5 1301.3,280.1 1303.1,280.1 C1304.9,280.1 1307.7,284.3 1310.0,284.0 C1312.3,283.7 1315.2,278.6 1317.1,278.1 C1319.0,277.6 1319.8,281.1 1321.2,281.1 C1322.6,281.1 1323.7,278.9 1325.2,278.1 C1326.7,277.3 1328.6,275.5 1330.2,276.1 C1331.8,276.8 1333.5,279.8 1335.0,282.0 C1336.5,284.2 1338.0,286.7 1339.2,289.1 C1340.4,291.5 1341.1,295.4 1342.2,296.2 C1343.3,297.0 1344.7,293.7 1346.0,294.0 C1347.3,294.3 1348.5,296.5 1350.0,298.0 C1351.5,299.5 1353.2,301.1 1355.0,303.0 C1356.8,304.9 1358.9,309.5 1360.7,309.3 C1362.5,309.1 1364.1,302.6 1366.0,302.0 C1367.9,301.4 1369.8,304.3 1372.0,306.0 C1374.2,307.7 1376.7,313.0 1379.0,312.0 C1381.3,311.0 1383.8,303.3 1386.0,300.0 C1388.2,296.7 1390.0,292.3 1392.0,292.0 C1394.0,291.7 1395.9,297.4 1398.0,298.0 C1400.1,298.6 1402.8,296.8 1404.8,295.5 C1406.8,294.2 1407.8,290.9 1410.0,290.0 C1412.2,289.1 1415.3,289.7 1418.0,290.0 C1420.7,290.3 1423.3,293.0 1426.0,292.0 C1428.7,291.0 1431.1,287.1 1434.0,284.0 C1436.9,280.9 1440.9,273.8 1443.4,273.5 C1445.9,273.2 1447.2,277.6 1449.0,282.0 C1450.8,286.4 1452.3,293.7 1454.0,300.0 C1455.7,306.3 1457.3,312.5 1459.0,320.0 C1460.7,327.5 1462.2,336.3 1464.0,345.0 C1465.8,353.7 1468.0,365.8 1470.0,372.0 C1472.0,378.2 1473.8,380.0 1476.0,382.0 C1478.2,384.0 1480.8,388.7 1483.0,384.0 C1485.2,379.3 1487.0,368.5 1489.0,354.0 C1491.0,339.5 1492.8,316.0 1494.7,297.0 C1496.6,278.0 1498.5,258.0 1500.4,240.0 C1502.3,222.0 1504.1,203.2 1506.0,189.0 C1507.9,174.8 1509.6,165.4 1511.8,155.0 C1514.0,144.6 1516.3,136.2 1518.9,126.8 C1521.5,117.4 1524.9,102.2 1527.4,98.4 C1529.9,94.6 1531.6,100.7 1534.0,104.0 C1536.4,107.3 1539.3,116.7 1542.0,118.0 C1544.7,119.3 1547.3,110.7 1550.0,112.0 C1552.7,113.3 1555.3,121.3 1558.0,126.0 C1560.7,130.7 1563.3,139.0 1566.0,140.0 C1568.7,141.0 1571.3,130.3 1574.0,132.0 C1576.7,133.7 1579.6,140.9 1582.0,150.0 C1584.4,159.1 1586.2,179.4 1588.4,186.4 C1590.6,193.4 1592.6,190.1 1595.0,192.0 C1597.4,193.9 1600.1,195.5 1602.6,197.7 C1605.1,199.9 1607.1,202.1 1610.0,205.0 C1612.9,207.9 1616.7,212.2 1620.0,215.0 C1623.3,217.8 1626.7,219.5 1630.0,222.0 C1633.3,224.5 1637.0,227.7 1640.0,230.0 C1643.0,232.3 1645.7,234.3 1648.0,236.0 C1650.3,237.7 1651.7,239.0 1653.7,240.3 C1655.7,241.6 1657.6,243.1 1660.0,244.0 C1662.4,244.9 1665.3,244.7 1668.0,246.0 C1670.7,247.3 1673.6,251.2 1676.4,251.7 C1679.2,252.2 1683.6,249.3 1685.0,248.8" fill="none" stroke="#000000" stroke-width="5.0" stroke-linejoin="round" stroke-linecap="butt" stroke-dasharray="19 16"/>
<line x1="921.0" y1="691.0" x2="921.0" y2="1106.5" stroke="#8e8e8e" stroke-width="1.5"/>
<line x1="914.0" y1="727.5" x2="921.0" y2="727.5" stroke="#8e8e8e" stroke-width="1.5"/>
<text x="899.5" y="734.3" font-size="21.0" text-anchor="end" fill="#1f1f1f" >10</text>
<line x1="914.0" y1="917.0" x2="921.0" y2="917.0" stroke="#8e8e8e" stroke-width="1.5"/>
<text x="899.5" y="923.8" font-size="21.0" text-anchor="end" fill="#1f1f1f" >0</text>
<line x1="914.0" y1="1106.5" x2="921.0" y2="1106.5" stroke="#8e8e8e" stroke-width="1.5"/>
<text x="899.5" y="1113.3" font-size="21.0" text-anchor="end" fill="#1f1f1f" >-10</text>
<line x1="921.0" y1="917.0" x2="1358.0" y2="917.0" stroke="#8e8e8e" stroke-width="1.5"/>
<line x1="1229.1" y1="917.0" x2="1229.1" y2="924.0" stroke="#8e8e8e" stroke-width="1.5"/>
<text x="922.0" y="1143.2" font-size="21.0" text-anchor="middle" fill="#1f1f1f" >-500</text>
<text x="1049.9" y="1143.2" font-size="21.0" text-anchor="middle" fill="#1f1f1f" >0</text>
<text x="1177.8" y="1143.2" font-size="21.0" text-anchor="middle" fill="#1f1f1f" >500</text>
<text x="1305.7" y="1143.2" font-size="21.0" text-anchor="middle" fill="#1f1f1f" >1000</text>
<text x="1110.0" y="1182.0" font-size="27.0" text-anchor="middle" fill="#1a1a1a" textLength="127.0" lengthAdjust="spacingAndGlyphs" >Time (ms)</text>
<text x="860.2" y="913.6" font-size="27.0" text-anchor="middle" fill="#1a1a1a" textLength="197.0" lengthAdjust="spacingAndGlyphs" transform="rotate(-90 860.2 913.6)">Amplitudes (&#181;V)</text>
<text x="897.5" y="674.3" font-size="45.5" text-anchor="start" fill="#0d0d0d" textLength="44.5" lengthAdjust="spacingAndGlyphs" >Pz</text>
<path d="M921.7,896.0 C922.6,901.3 925.2,922.3 926.8,928.0 C928.3,933.7 929.5,934.9 931.0,930.0 C932.5,925.1 934.1,903.1 935.6,898.8 C937.1,894.5 938.5,900.1 940.0,904.0 C941.5,907.9 942.5,918.4 944.5,922.4 C946.5,926.4 948.9,926.7 951.8,928.2 C954.7,929.7 959.0,931.0 962.0,931.2 C965.0,931.5 967.0,930.2 969.5,929.7 C972.0,929.2 974.9,927.5 976.8,928.2 C978.7,928.9 979.5,932.0 981.0,934.0 C982.5,936.0 983.9,941.9 985.6,940.0 C987.4,938.1 989.3,927.5 991.5,922.4 C993.7,917.2 996.4,913.0 998.9,909.1 C1001.4,905.2 1003.8,901.2 1006.2,898.8 C1008.7,896.3 1011.1,893.9 1013.6,894.4 C1016.1,894.9 1018.3,898.6 1021.0,901.8 C1023.7,905.0 1027.4,913.0 1029.8,913.5 C1032.2,914.0 1033.4,906.4 1035.6,904.7 C1037.8,903.0 1040.6,902.7 1043.0,903.2 C1045.4,903.8 1047.8,906.3 1050.0,908.0 C1052.2,909.7 1053.7,912.1 1056.2,913.5 C1058.7,914.9 1062.3,916.5 1065.0,916.5 C1067.7,916.5 1069.9,914.9 1072.4,913.5 C1074.9,912.1 1077.5,911.2 1080.0,908.0 C1082.5,904.8 1084.7,893.2 1087.1,894.4 C1089.5,895.6 1092.5,910.8 1094.5,915.0 C1096.5,919.2 1097.0,921.6 1098.9,919.4 C1100.9,917.2 1103.6,908.5 1106.2,901.8 C1108.8,895.1 1111.8,880.7 1114.3,879.0 C1116.8,877.3 1119.2,886.5 1121.0,891.5 C1122.8,896.5 1123.7,905.7 1125.4,909.1 C1127.1,912.5 1129.0,910.5 1131.0,912.0 C1133.0,913.5 1135.1,913.3 1137.1,918.0 C1139.1,922.7 1141.0,933.9 1143.0,940.0 C1145.0,946.1 1147.2,949.8 1148.9,954.7 C1150.6,959.6 1151.6,973.3 1153.3,969.4 C1155.0,965.5 1157.6,943.6 1159.2,931.2 C1160.8,918.8 1161.7,905.5 1163.0,895.0 C1164.3,884.5 1165.0,881.1 1167.1,867.9 C1169.2,854.7 1173.1,832.4 1175.5,815.7 C1177.9,799.0 1179.6,776.4 1181.7,767.7 C1183.8,759.0 1186.1,767.7 1188.0,763.5 C1189.9,759.3 1191.5,748.9 1193.2,742.6 C1194.9,736.3 1196.5,730.1 1198.4,725.9 C1200.3,721.7 1203.0,717.6 1204.7,717.6 C1206.5,717.6 1207.3,723.0 1208.9,725.9 C1210.5,728.8 1212.4,734.9 1214.1,735.3 C1215.8,735.6 1217.6,732.0 1219.3,728.0 C1221.0,724.0 1222.8,711.6 1224.5,711.3 C1226.2,710.9 1227.9,719.6 1229.8,725.9 C1231.7,732.2 1234.1,743.3 1236.0,748.9 C1237.9,754.5 1239.8,759.6 1241.2,759.3 C1242.6,758.9 1243.2,749.9 1244.4,746.8 C1245.6,743.7 1246.9,740.5 1248.5,740.5 C1250.1,740.5 1252.0,741.6 1253.8,746.8 C1255.5,752.0 1257.1,765.5 1259.0,771.8 C1260.9,778.1 1262.8,781.6 1265.2,784.4 C1267.6,787.2 1271.2,785.7 1273.6,788.5 C1276.0,791.3 1278.1,796.2 1279.8,801.1 C1281.5,806.0 1282.3,815.6 1284.0,817.8 C1285.7,819.9 1287.9,813.0 1290.0,814.0 C1292.1,815.0 1294.7,819.9 1296.5,824.0 C1298.3,828.1 1298.2,835.5 1300.7,838.6 C1303.2,841.7 1308.4,839.7 1311.2,842.8 C1314.0,845.9 1315.7,853.2 1317.4,857.4 C1319.1,861.6 1319.9,868.6 1321.6,867.9 C1323.3,867.2 1325.4,855.0 1327.8,853.2 C1330.2,851.5 1334.1,852.9 1336.2,857.4 C1338.3,861.9 1338.8,875.3 1340.4,880.4 C1342.0,885.5 1343.9,888.1 1345.6,887.7 C1347.3,887.4 1349.2,881.9 1350.8,878.3 C1352.4,874.6 1354.3,867.9 1355.0,865.8" fill="none" stroke="#000000" stroke-width="5.0" stroke-linejoin="round" stroke-linecap="butt"/>
<path d="M921.7,853.2 C922.3,859.6 924.2,877.8 925.4,891.5 C926.6,905.2 927.9,925.1 929.0,935.6 C930.1,946.1 930.8,954.7 932.0,954.7 C933.2,954.7 934.9,944.9 936.4,935.6 C937.9,926.3 939.4,908.1 940.8,898.8 C942.1,889.5 943.1,879.7 944.5,879.7 C945.9,879.7 947.4,890.7 948.9,898.8 C950.4,906.9 951.9,926.2 953.3,928.2 C954.6,930.2 955.8,915.7 957.0,910.6 C958.2,905.5 959.3,897.7 960.6,897.4 C961.9,897.1 963.6,904.9 965.0,909.0 C966.4,913.1 967.5,918.3 969.0,922.0 C970.5,925.7 972.1,928.9 973.9,931.2 C975.7,933.5 977.8,931.9 979.8,935.6 C981.8,939.3 983.6,953.9 985.6,953.2 C987.6,952.5 989.8,939.8 991.5,931.2 C993.2,922.6 994.5,905.2 996.0,901.8 C997.5,898.4 998.7,908.1 1000.4,910.6 C1002.1,913.1 1004.2,912.3 1006.2,916.5 C1008.2,920.7 1010.1,936.1 1012.1,935.6 C1014.1,935.1 1016.0,918.9 1018.0,913.5 C1020.0,908.1 1021.9,902.5 1023.9,903.2 C1025.9,904.0 1027.8,918.2 1029.8,918.0 C1031.8,917.8 1033.0,907.0 1035.6,901.8 C1038.2,896.6 1042.7,887.5 1045.2,887.0 C1047.7,886.5 1048.8,894.1 1050.4,898.8 C1052.0,903.5 1053.5,910.3 1055.0,915.0 C1056.5,919.7 1057.5,928.3 1059.2,926.8 C1060.9,925.3 1063.5,910.6 1065.0,906.2 C1066.5,901.8 1066.5,899.6 1068.0,900.3 C1069.5,901.0 1071.7,911.3 1073.9,910.6 C1076.1,909.9 1079.0,893.5 1081.2,895.9 C1083.4,898.3 1085.4,917.4 1087.1,925.3 C1088.8,933.1 1089.8,938.1 1091.5,943.0 C1093.2,947.9 1095.4,956.2 1097.4,954.7 C1099.4,953.2 1101.6,939.7 1103.3,934.1 C1105.0,928.5 1106.2,920.6 1107.7,920.9 C1109.2,921.1 1110.5,929.5 1112.1,935.6 C1113.7,941.7 1115.3,958.3 1117.3,957.6 C1119.3,956.9 1121.8,938.3 1123.9,931.2 C1126.0,924.1 1127.8,915.5 1129.8,915.0 C1131.8,914.5 1133.4,922.8 1135.6,928.2 C1137.8,933.6 1140.5,939.8 1143.0,947.4 C1145.5,955.0 1148.2,972.1 1150.4,973.8 C1152.6,975.5 1154.5,967.6 1156.2,957.6 C1157.9,947.6 1159.1,928.2 1160.6,913.5 C1162.1,898.8 1163.6,880.5 1165.0,869.4 C1166.4,858.3 1167.6,857.7 1169.2,847.0 C1170.8,836.3 1172.8,819.1 1174.4,805.2 C1176.0,791.3 1177.4,774.6 1178.6,763.5 C1179.8,752.4 1180.3,744.8 1181.7,738.4 C1183.1,732.0 1184.9,726.3 1187.0,724.9 C1189.1,723.5 1192.0,730.6 1194.3,730.1 C1196.5,729.6 1198.4,725.2 1200.5,721.7 C1202.6,718.2 1204.5,710.2 1206.8,709.2 C1209.0,708.2 1211.6,715.6 1214.0,716.0 C1216.4,716.4 1219.1,713.8 1221.4,711.3 C1223.7,708.8 1225.8,701.8 1227.7,700.9 C1229.6,700.0 1231.2,706.5 1232.9,706.1 C1234.6,705.8 1236.4,697.9 1238.1,698.8 C1239.8,699.7 1241.6,705.4 1243.3,711.3 C1245.0,717.2 1246.4,729.8 1248.5,734.3 C1250.6,738.8 1253.0,737.0 1255.8,738.4 C1258.6,739.8 1262.2,739.1 1265.2,742.6 C1268.2,746.1 1271.0,753.4 1273.6,759.3 C1276.2,765.2 1278.5,778.1 1280.9,778.1 C1283.3,778.1 1285.6,760.0 1288.2,759.3 C1290.8,758.6 1293.7,768.7 1296.5,773.9 C1299.3,779.1 1301.8,787.8 1304.9,790.6 C1308.0,793.4 1312.5,789.6 1315.3,790.6 C1318.1,791.6 1319.7,791.7 1321.6,796.9 C1323.5,802.1 1325.4,813.5 1326.8,821.9 C1328.2,830.2 1328.4,842.8 1330.0,847.0 C1331.6,851.2 1334.0,847.3 1336.2,847.0 C1338.4,846.7 1340.6,848.1 1343.0,845.0 C1345.4,841.9 1348.5,829.3 1350.8,828.2 C1353.1,827.1 1356.0,836.9 1357.1,838.6" fill="none" stroke="#7f7f7f" stroke-width="5.0" stroke-linejoin="round" stroke-linecap="butt"/>
<path d="M921.7,880.0 C922.4,885.8 924.5,905.8 926.0,915.0 C927.5,924.2 929.3,934.2 931.0,935.0 C932.7,935.8 934.2,924.5 936.0,920.0 C937.8,915.5 940.0,908.8 942.0,908.0 C944.0,907.2 946.0,912.0 948.0,915.0 C950.0,918.0 952.0,925.2 954.0,926.0 C956.0,926.8 958.0,922.0 960.0,920.0 C962.0,918.0 964.0,913.2 966.0,914.0 C968.0,914.8 970.0,922.0 972.0,925.0 C974.0,928.0 976.0,931.5 978.0,932.0 C980.0,932.5 982.0,930.0 984.0,928.0 C986.0,926.0 988.0,920.5 990.0,920.0 C992.0,919.5 994.0,923.3 996.0,925.0 C998.0,926.7 1000.0,929.8 1002.0,930.0 C1004.0,930.2 1006.0,928.0 1008.0,926.0 C1010.0,924.0 1012.0,918.3 1014.0,918.0 C1016.0,917.7 1018.0,922.0 1020.0,924.0 C1022.0,926.0 1024.0,929.7 1026.0,930.0 C1028.0,930.3 1029.7,927.3 1032.0,926.0 C1034.3,924.7 1037.3,921.3 1040.0,922.0 C1042.7,922.7 1045.0,926.8 1048.0,930.0 C1051.0,933.2 1054.4,941.3 1057.7,941.5 C1061.0,941.7 1065.0,934.5 1068.0,931.2 C1071.0,928.0 1073.3,922.9 1076.0,922.0 C1078.7,921.1 1081.3,924.7 1084.0,926.0 C1086.7,927.3 1089.3,928.7 1092.0,930.0 C1094.7,931.3 1097.3,932.7 1100.0,934.0 C1102.7,935.3 1105.3,936.3 1108.0,938.0 C1110.7,939.7 1113.3,941.7 1116.0,944.0 C1118.7,946.3 1121.9,952.5 1123.9,951.8 C1125.9,951.1 1126.8,940.3 1128.0,940.0 C1129.2,939.7 1129.7,945.6 1131.0,950.0 C1132.3,954.4 1134.1,960.7 1135.6,966.5 C1137.1,972.3 1138.3,981.6 1140.0,985.0 C1141.7,988.4 1144.0,987.0 1146.0,987.0 C1148.0,987.0 1150.3,990.3 1152.0,985.0 C1153.7,979.7 1154.7,966.7 1156.0,955.0 C1157.3,943.3 1158.5,927.5 1160.0,915.0 C1161.5,902.5 1163.3,891.7 1165.0,880.0 C1166.7,868.3 1168.2,859.2 1170.0,845.0 C1171.8,830.8 1174.0,809.2 1176.0,795.0 C1178.0,780.8 1179.7,768.4 1182.0,760.0 C1184.3,751.6 1187.3,749.7 1190.0,744.7 C1192.7,739.7 1195.3,734.5 1198.0,730.0 C1200.7,725.5 1203.3,720.7 1206.0,718.0 C1208.7,715.3 1211.3,716.0 1214.0,714.0 C1216.7,712.0 1219.3,707.5 1222.0,706.0 C1224.7,704.5 1227.3,704.0 1230.0,705.0 C1232.7,706.0 1235.5,708.7 1238.0,712.0 C1240.5,715.3 1242.7,719.5 1245.0,725.0 C1247.3,730.5 1249.5,739.2 1252.0,745.0 C1254.5,750.8 1257.1,755.5 1260.0,760.0 C1262.9,764.5 1266.8,764.5 1269.4,772.0 C1272.0,779.5 1273.9,796.0 1275.7,805.0 C1277.5,814.0 1277.6,825.2 1280.0,826.0 C1282.4,826.8 1287.0,809.7 1290.0,810.0 C1293.0,810.3 1295.3,822.0 1298.0,828.0 C1300.7,834.0 1303.3,844.0 1306.0,846.0 C1308.7,848.0 1311.3,841.7 1314.0,840.0 C1316.7,838.3 1319.7,832.7 1322.0,836.0 C1324.3,839.3 1326.2,854.2 1328.0,860.0 C1329.8,865.8 1331.0,869.0 1333.0,871.0 C1335.0,873.0 1337.8,873.5 1340.0,872.0 C1342.2,870.5 1344.0,865.7 1346.0,862.0 C1348.0,858.3 1350.2,851.2 1352.0,850.0 C1353.8,848.8 1356.2,854.2 1357.0,855.0" fill="none" stroke="#7f7f7f" stroke-width="5.0" stroke-linejoin="round" stroke-linecap="butt" stroke-dasharray="19 16" stroke-dashoffset="18.5"/>
<path d="M921.7,905.0 C922.4,908.3 924.5,923.8 926.0,925.0 C927.5,926.2 929.3,913.2 931.0,912.0 C932.7,910.8 934.2,915.7 936.0,918.0 C937.8,920.3 940.0,925.3 942.0,926.0 C944.0,926.7 945.8,922.0 948.0,922.0 C950.2,922.0 952.7,924.7 955.0,926.0 C957.3,927.3 959.5,930.0 962.0,930.0 C964.5,930.0 967.7,929.0 970.0,926.0 C972.3,923.0 974.4,916.5 976.0,912.0 C977.6,907.5 978.1,899.1 979.8,898.8 C981.5,898.5 984.0,906.8 986.0,910.0 C988.0,913.2 990.0,917.7 992.0,918.0 C994.0,918.3 996.1,913.2 998.0,912.0 C999.9,910.8 1001.3,908.9 1003.3,910.6 C1005.3,912.3 1007.5,917.8 1010.0,922.0 C1012.5,926.2 1015.2,933.8 1018.0,935.6 C1020.8,937.4 1024.1,934.2 1026.8,932.6 C1029.5,931.0 1031.8,925.8 1034.0,926.0 C1036.2,926.2 1038.5,931.9 1040.0,934.0 C1041.5,936.1 1041.7,938.8 1043.0,938.5 C1044.3,938.2 1046.3,934.0 1048.0,932.0 C1049.7,930.0 1051.3,929.1 1053.3,926.8 C1055.3,924.5 1057.9,919.8 1060.0,918.0 C1062.1,916.2 1064.0,916.0 1066.0,916.0 C1068.0,916.0 1069.7,917.3 1072.0,918.0 C1074.3,918.7 1077.3,919.3 1080.0,920.0 C1082.7,920.7 1085.5,922.0 1088.0,922.0 C1090.5,922.0 1092.7,920.7 1095.0,920.0 C1097.3,919.3 1099.5,919.3 1102.0,918.0 C1104.5,916.7 1107.3,912.3 1110.0,912.0 C1112.7,911.7 1115.3,914.3 1118.0,916.0 C1120.7,917.7 1123.7,919.7 1126.0,922.0 C1128.3,924.3 1130.0,927.0 1132.0,930.0 C1134.0,933.0 1136.0,936.7 1138.0,940.0 C1140.0,943.3 1142.0,946.3 1144.0,950.0 C1146.0,953.7 1148.2,960.3 1150.0,962.0 C1151.8,963.7 1153.3,967.0 1155.0,960.0 C1156.7,953.0 1158.3,935.0 1160.0,920.0 C1161.7,905.0 1163.3,883.3 1165.0,870.0 C1166.7,856.7 1168.5,850.0 1170.0,840.0 C1171.5,830.0 1172.7,820.0 1174.0,810.0 C1175.3,800.0 1176.5,788.3 1178.0,780.0 C1179.5,771.7 1181.0,766.7 1183.0,760.0 C1185.0,753.3 1187.8,749.2 1190.0,740.0 C1192.2,730.8 1194.2,711.3 1196.4,705.0 C1198.6,698.7 1200.7,702.8 1203.0,702.0 C1205.3,701.2 1207.7,700.8 1210.0,700.0 C1212.3,699.2 1214.7,697.7 1217.0,697.0 C1219.3,696.3 1221.7,696.0 1224.0,696.0 C1226.3,696.0 1229.0,694.3 1231.0,697.0 C1233.0,699.7 1234.2,705.7 1236.0,712.0 C1237.8,718.3 1239.8,729.0 1242.0,735.0 C1244.2,741.0 1246.5,745.3 1249.0,748.0 C1251.5,750.7 1254.6,748.2 1256.9,751.0 C1259.2,753.8 1260.9,760.2 1263.0,765.0 C1265.1,769.8 1267.1,777.2 1269.4,780.0 C1271.7,782.8 1274.2,781.3 1277.0,782.0 C1279.8,782.7 1283.6,782.1 1286.1,784.4 C1288.6,786.7 1289.9,791.8 1292.0,796.0 C1294.1,800.2 1296.3,806.7 1298.6,809.4 C1300.9,812.1 1303.6,811.7 1306.0,812.0 C1308.4,812.3 1311.2,808.7 1313.0,811.0 C1314.8,813.3 1315.0,821.5 1317.0,826.0 C1319.0,830.5 1321.8,833.5 1325.0,838.0 C1328.2,842.5 1332.7,849.9 1336.2,853.2 C1339.7,856.5 1342.5,857.0 1346.0,858.0 C1349.5,859.0 1355.2,859.2 1357.0,859.5" fill="none" stroke="#000000" stroke-width="5.0" stroke-linejoin="round" stroke-linecap="butt" stroke-dasharray="19 16"/>
<line x1="1391" y1="865.6" x2="1439.5" y2="865.6" stroke="#7f7f7f" stroke-width="6"/>
<line x1="1391" y1="897.6" x2="1439.5" y2="897.6" stroke="#000000" stroke-width="6"/>
<line x1="1391" y1="933.7" x2="1439.5" y2="933.7" stroke="#7f7f7f" stroke-width="6.4" stroke-dasharray="6.4 6.6"/>
<line x1="1391" y1="965.2" x2="1439.5" y2="965.2" stroke="#000000" stroke-width="6.4" stroke-dasharray="6.4 6.6"/>
<text x="1457.5" y="872.8" font-size="23.0" text-anchor="start" fill="#1a1a1a" textLength="215.0" lengthAdjust="spacingAndGlyphs" >Unimodal congruent</text>
<text x="1457.5" y="904.8" font-size="23.0" text-anchor="start" fill="#1a1a1a" textLength="198.5" lengthAdjust="spacingAndGlyphs" >Bimodal congruent</text>
<text x="1457.5" y="941.0" font-size="23.0" text-anchor="start" fill="#1a1a1a" textLength="233.5" lengthAdjust="spacingAndGlyphs" >Unimodal incongruent</text>
<text x="1457.5" y="973.5" font-size="23.0" text-anchor="start" fill="#1a1a1a" textLength="217.5" lengthAdjust="spacingAndGlyphs" >Bimodal incongruent</text>
</g>
</svg>
</body></html>
